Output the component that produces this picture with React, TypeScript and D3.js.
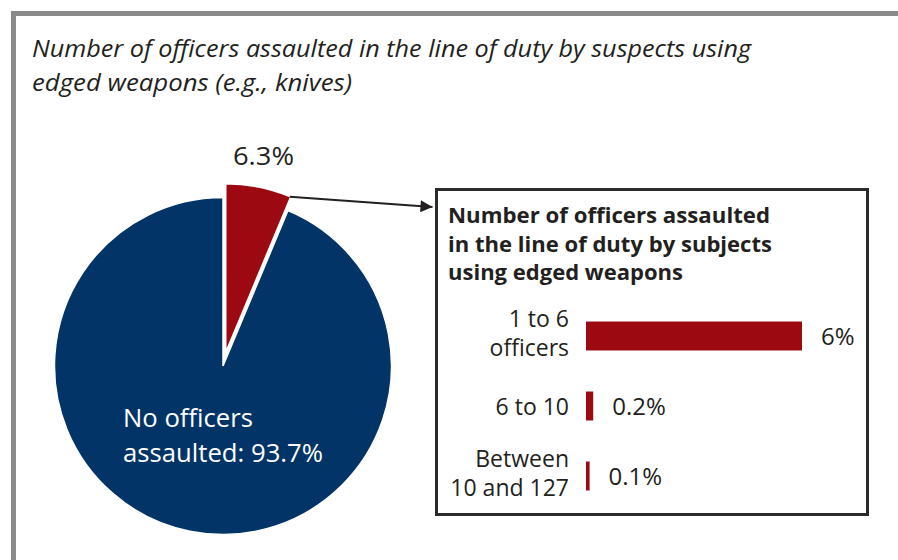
import React from "react";
import * as d3 from "d3";

const titleLines = [
  "Number of officers assaulted in the line of duty by suspects using",
  "edged weapons (e.g., knives)",
];
const pieCategories = ["Officers assaulted", "No officers assaulted"];
const pieValues = [6.3, 93.7];
const pieLabels = ["6.3%", "No officers\nassaulted: 93.7%"];

const boxTitleLines = [
  "Number of officers assaulted",
  "in the line of duty by subjects",
  "using edged weapons",
];
const barCategories = ["1 to 6\nofficers", "6 to 10", "Between\n10 and 127"];
const barValues = [6, 0.2, 0.1];
const barLabels = ["6%", "0.2%", "0.1%"];

const BLUE = "#023467";
const RED = "#9c0911";
const TEXT = "#231f20";
const FONT = "'Open Sans', 'Noto Sans', sans-serif";

export default function App() {
  const W = 898;
  const H = 560;

  // pie
  const cx = 223;
  const cy = 366;
  const r = 168.5;
  const explode = 14;
  const pie = d3.pie<number>().sort(null).value((d) => d).startAngle(0);
  const arcs = pie(pieValues);
  const arcGen = d3.arc<d3.PieArcDatum<number>>().innerRadius(0).outerRadius(r);
  const colors = [RED, BLUE];

  const redArc = arcs[0];
  const mid = (redArc.startAngle + redArc.endAngle) / 2;
  const exX = explode * Math.sin(mid);
  const exY = -explode * Math.cos(mid);
  const cornerX = cx + exX + r * Math.sin(redArc.endAngle);
  const cornerY = cy + exY - r * Math.cos(redArc.endAngle);

  // box
  const box = { x: 436.5, y: 189.5, w: 431, h: 325 };

  // bars
  const x = d3.scaleLinear().domain([0, 6]).range([586, 802]);
  const y = d3
    .scaleBand<string>()
    .domain(barCategories)
    .range([301, 511])
    .paddingInner(0.586)
    .paddingOuter(0.293);

  const arrowEndX = box.x - 4;
  const arrowEndY = 207;
  const pieLabelLens = [130, 200];

  return (
    <svg
      width={W}
      height={H}
      style={{ position: "absolute", left: 0, top: 0, background: "#fff" }}
      fontFamily={FONT}
    >
      <rect x={0} y={0} width={W} height={H} fill="#fff" />
      {/* frame */}
      <line x1={13} y1={13.5} x2={W} y2={13.5} stroke="#8a8a8a" strokeWidth={5} />
      <line x1={13.5} y1={11} x2={13.5} y2={H} stroke="#8a8a8a" strokeWidth={5} />

      {/* title */}
      {titleLines.map((t, i) => (
        <text
          key={i}
          x={32}
          y={57 + i * 34}
          fontSize={24}
          fontStyle="italic"
          fill={TEXT}
          textLength={i === 0 ? 719 : 320}
          lengthAdjust="spacingAndGlyphs"
        >
          {t}
        </text>
      ))}

      {/* pie */}
      {arcs.map((a, i) => (
        <path
          key={pieCategories[i]}
          d={arcGen(a) || ""}
          fill={colors[i]}
          stroke="#fff"
          strokeWidth={1.5}
          transform={
            i === 0 ? `translate(${cx + exX},${cy + exY})` : `translate(${cx},${cy})`
          }
        />
      ))}
      <text
        x={233}
        y={165}
        fontSize={26}
        fill={TEXT}
        textLength={61}
        lengthAdjust="spacingAndGlyphs"
      >
        {pieLabels[0]}
      </text>
      {pieLabels[1].split("\n").map((t, i) => (
        <text
          key={i}
          x={123}
          y={427 + i * 35}
          fontSize={25.5}
          fill="#fff"
          textLength={pieLabelLens[i]}
          lengthAdjust="spacingAndGlyphs"
        >
          {t}
        </text>
      ))}

      {/* arrow */}
      <defs>
        <marker
          id="arrowhead"
          viewBox="0 0 10 10"
          refX={10}
          refY={5}
          markerWidth={20}
          markerHeight={12}
          markerUnits="userSpaceOnUse"
          orient="auto"
        >
          <path d="M0,0 L10,5 L0,10 Z" fill={TEXT} />
        </marker>
      </defs>
      <line
        x1={cornerX - 1}
        y1={cornerY}
        x2={arrowEndX}
        y2={arrowEndY}
        stroke={TEXT}
        strokeWidth={2}
        markerEnd="url(#arrowhead)"
      />

      {/* box */}
      <rect
        x={box.x}
        y={box.y}
        width={box.w}
        height={box.h}
        fill="#fff"
        stroke="#2b2b2b"
        strokeWidth={3}
      />
      {boxTitleLines.map((t, i) => (
        <text
          key={i}
          x={448}
          y={223 + i * 28.5}
          fontSize={21}
          fontWeight={700}
          fill={TEXT}
          textLength={i === 0 ? 322 : i === 1 ? 324 : 235}
          lengthAdjust="spacingAndGlyphs"
        >
          {t}
        </text>
      ))}

      {/* bars */}
      {barCategories.map((c, i) => {
        const yc = (y(c) as number) + y.bandwidth() / 2;
        const lines = c.split("\n");
        const n = lines.length;
        return (
          <g key={c}>
            <rect
              x={x(0)}
              y={y(c) as number}
              width={x(barValues[i]) - x(0)}
              height={y.bandwidth()}
              fill={RED}
            />
            {lines.map((l, j) => (
              <text
                key={j}
                x={569}
                y={yc + 9 + (j - (n - 1) / 2) * 29.5 - (n - 1) * 3.5}
                fontSize={23}
                fill={TEXT}
                textAnchor="end"
              >
                {l}
              </text>
            ))}
            <text x={x(barValues[i]) + 19} y={yc + 9} fontSize={24} fill={TEXT}>
              {barLabels[i]}
            </text>
          </g>
        );
      })}
    </svg>
  );
}
